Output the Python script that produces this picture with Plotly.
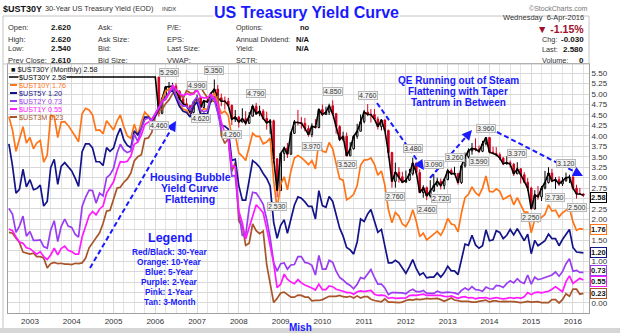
import plotly.graph_objects as go
import pandas as pd

# ---------------- data (monthly, Jul-2002 .. Apr-2016) ----------------
start_month = "2002-07-01"

y10 = [4.46, 4.14, 3.63, 3.93, 4.22, 3.83,
       3.96, 3.69, 3.83, 3.89, 3.37, 3.54, 4.49, 4.47, 3.96, 4.33, 4.34, 4.25,
       4.13, 3.99, 3.86, 4.53, 4.66, 4.62, 4.50, 4.13, 4.14, 4.05, 4.36, 4.24,
       4.14, 4.36, 4.50, 4.21, 4.00, 3.94, 4.28, 4.02, 4.34, 4.57, 4.49, 4.39,
       4.53, 4.55, 4.86, 5.07, 5.12, 5.15, 4.99, 4.74, 4.64, 4.61, 4.46, 4.71,
       4.83, 4.56, 4.65, 4.63, 4.89, 5.03, 4.78, 4.54, 4.59, 4.48, 3.97, 4.03,
       3.59, 3.51, 3.41, 3.73, 4.06, 3.99, 3.99, 3.81, 3.85, 3.95, 2.92, 2.25,
       2.84, 3.02, 2.71, 3.16, 3.47, 3.53, 3.48, 3.40, 3.31, 3.41, 3.21, 3.85,
       3.63, 3.61, 3.84, 3.69, 3.31, 2.97, 2.94, 2.47, 2.52, 2.60, 2.81, 3.30,
       3.42, 3.43, 3.47, 3.32, 3.06, 3.16, 2.82, 2.23, 1.92, 2.17, 2.08, 1.89,
       1.83, 1.98, 2.23, 1.95, 1.59, 1.67, 1.51, 1.57, 1.65, 1.72, 1.62, 1.78,
       2.02, 1.89, 1.87, 1.70, 2.16, 2.52, 2.60, 2.78, 2.64, 2.57, 2.75, 3.04,
       2.67, 2.66, 2.73, 2.67, 2.48, 2.53, 2.58, 2.35, 2.52, 2.35, 2.18, 2.17,
       1.68, 2.00, 1.94, 2.05, 2.12, 2.35, 2.20, 2.22, 2.06, 2.16, 2.21, 2.27,
       1.94, 1.74, 1.78, 1.76]

y5 = [3.81, 3.29, 2.63, 2.72, 3.20, 2.78,
      2.95, 2.71, 2.74, 2.82, 2.32, 2.43, 3.24, 3.44, 2.84, 3.27, 3.36, 3.25,
      3.16, 2.98, 2.79, 3.62, 3.81, 3.81, 3.71, 3.38, 3.38, 3.29, 3.72, 3.63,
      3.71, 4.00, 4.18, 3.90, 3.77, 3.72, 4.12, 4.02, 4.18, 4.45, 4.45, 4.35,
      4.47, 4.63, 4.82, 4.92, 5.03, 5.10, 4.91, 4.70, 4.59, 4.56, 4.45, 4.70,
      4.82, 4.51, 4.54, 4.51, 4.86, 4.92, 4.59, 4.25, 4.23, 4.16, 3.41, 3.44,
      2.81, 2.46, 2.46, 2.99, 3.41, 3.34, 3.25, 3.10, 2.98, 2.80, 1.93, 1.55,
      1.86, 1.99, 1.67, 2.01, 2.34, 2.54, 2.51, 2.42, 2.31, 2.31, 2.01, 2.69,
      2.33, 2.29, 2.55, 2.43, 2.10, 1.79, 1.60, 1.33, 1.27, 1.17, 1.46, 2.01,
      1.95, 2.13, 2.24, 1.97, 1.69, 1.76, 1.35, 0.96, 0.96, 1.02, 0.96, 0.83,
      0.71, 0.87, 1.04, 0.82, 0.67, 0.72, 0.60, 0.62, 0.62, 0.72, 0.62, 0.72,
      0.88, 0.77, 0.77, 0.68, 1.05, 1.41, 1.38, 1.62, 1.39, 1.31, 1.37, 1.75,
      1.49, 1.51, 1.73, 1.69, 1.54, 1.62, 1.76, 1.63, 1.78, 1.62, 1.49, 1.65,
      1.18, 1.50, 1.37, 1.43, 1.49, 1.65, 1.54, 1.54, 1.37, 1.52, 1.65, 1.76,
      1.33, 1.22, 1.21, 1.20]

y2 = [2.26, 2.13, 1.69, 1.84, 2.08, 1.60,
      1.71, 1.50, 1.50, 1.51, 1.35, 1.31, 1.74, 1.97, 1.47, 1.83, 2.01, 1.84,
      1.81, 1.64, 1.58, 2.31, 2.53, 2.70, 2.69, 2.39, 2.63, 2.56, 3.00, 3.07,
      3.22, 3.59, 3.80, 3.66, 3.60, 3.64, 4.04, 3.86, 4.18, 4.39, 4.43, 4.39,
      4.54, 4.69, 4.82, 4.87, 5.02, 5.16, 4.97, 4.79, 4.71, 4.71, 4.62, 4.82,
      4.93, 4.62, 4.58, 4.60, 4.92, 4.87, 4.56, 4.15, 3.98, 3.94, 3.04, 3.05,
      2.16, 1.62, 1.62, 2.29, 2.65, 2.63, 2.51, 2.36, 2.00, 1.56, 0.97, 0.76,
      0.94, 0.96, 0.81, 0.91, 0.92, 1.11, 1.11, 0.97, 0.95, 0.90, 0.67, 1.14,
      0.81, 0.81, 1.02, 0.97, 0.76, 0.61, 0.55, 0.47, 0.42, 0.34, 0.45, 0.61,
      0.58, 0.69, 0.80, 0.61, 0.45, 0.45, 0.36, 0.20, 0.25, 0.25, 0.25, 0.24,
      0.22, 0.29, 0.33, 0.27, 0.27, 0.30, 0.23, 0.23, 0.23, 0.28, 0.25, 0.25,
      0.26, 0.25, 0.24, 0.21, 0.30, 0.36, 0.31, 0.39, 0.32, 0.31, 0.28, 0.38,
      0.34, 0.33, 0.42, 0.41, 0.37, 0.47, 0.53, 0.48, 0.58, 0.50, 0.47, 0.67,
      0.45, 0.62, 0.56, 0.58, 0.61, 0.64, 0.67, 0.74, 0.64, 0.75, 0.94, 1.06,
      0.76, 0.78, 0.73, 0.73]

y1 = [1.77, 1.73, 1.58, 1.46, 1.43, 1.32,
      1.30, 1.22, 1.17, 1.23, 1.11, 1.04, 1.15, 1.31, 1.15, 1.30, 1.36, 1.26,
      1.23, 1.17, 1.17, 1.58, 1.86, 2.09, 2.19, 2.11, 2.25, 2.32, 2.63, 2.75,
      2.90, 3.18, 3.38, 3.37, 3.39, 3.51, 3.80, 3.85, 4.02, 4.27, 4.33, 4.38,
      4.52, 4.69, 4.81, 4.90, 5.01, 5.21, 5.10, 5.01, 4.96, 5.01, 4.98, 5.00,
      5.10, 4.93, 4.91, 4.91, 4.99, 4.91, 4.76, 4.33, 4.07, 3.96, 3.28, 3.26,
      2.20, 1.91, 1.53, 1.80, 2.12, 2.35, 2.26, 2.16, 1.78, 1.35, 0.95, 0.37,
      0.45, 0.69, 0.57, 0.50, 0.46, 0.56, 0.48, 0.43, 0.40, 0.36, 0.31, 0.45,
      0.32, 0.32, 0.41, 0.39, 0.33, 0.31, 0.28, 0.25, 0.25, 0.21, 0.27, 0.29,
      0.27, 0.29, 0.30, 0.21, 0.18, 0.19, 0.18, 0.11, 0.13, 0.11, 0.11, 0.12,
      0.12, 0.18, 0.19, 0.18, 0.19, 0.21, 0.18, 0.18, 0.17, 0.18, 0.18, 0.16,
      0.15, 0.17, 0.14, 0.11, 0.14, 0.15, 0.12, 0.13, 0.10, 0.12, 0.12, 0.13,
      0.10, 0.12, 0.13, 0.11, 0.10, 0.11, 0.13, 0.11, 0.13, 0.11, 0.15, 0.25,
      0.20, 0.25, 0.26, 0.24, 0.26, 0.28, 0.33, 0.39, 0.33, 0.27, 0.51, 0.65,
      0.47, 0.53, 0.59, 0.55]

y3m = [1.69, 1.67, 1.55, 1.45, 1.22, 1.19,
       1.17, 1.19, 1.11, 1.11, 1.08, 0.84, 0.94, 0.97, 0.94, 0.95, 0.93, 0.93,
       0.92, 0.95, 0.94, 0.96, 1.07, 1.32, 1.44, 1.58, 1.68, 1.90, 2.20, 2.22,
       2.49, 2.75, 2.77, 2.89, 2.97, 3.11, 3.40, 3.50, 3.55, 3.93, 3.95, 4.08,
       4.47, 4.62, 4.63, 4.77, 4.86, 5.01, 5.10, 5.05, 4.89, 5.08, 5.03, 5.02,
       5.14, 5.16, 5.04, 4.91, 4.86, 4.82, 4.96, 4.01, 3.82, 3.94, 3.15, 3.36,
       1.96, 1.85, 1.38, 1.43, 1.89, 1.73, 1.66, 1.72, 0.92, 0.46, 0.01, 0.11,
       0.24, 0.26, 0.21, 0.14, 0.14, 0.19, 0.18, 0.14, 0.14, 0.05, 0.06, 0.06,
       0.08, 0.13, 0.16, 0.16, 0.16, 0.18, 0.15, 0.14, 0.16, 0.12, 0.17, 0.12,
       0.15, 0.15, 0.09, 0.06, 0.05, 0.03, 0.10, 0.02, 0.02, 0.01, 0.01, 0.02,
       0.06, 0.08, 0.07, 0.09, 0.08, 0.09, 0.11, 0.10, 0.10, 0.11, 0.08, 0.04,
       0.08, 0.12, 0.07, 0.05, 0.04, 0.04, 0.04, 0.02, 0.02, 0.04, 0.06, 0.07,
       0.02, 0.05, 0.05, 0.03, 0.04, 0.04, 0.03, 0.03, 0.02, 0.01, 0.02, 0.04,
       0.02, 0.02, 0.03, 0.01, 0.01, 0.01, 0.08, 0.08, 0.00, 0.08, 0.22, 0.16,
       0.33, 0.33, 0.21, 0.23]

# 30-year: not issued until Feb-2006 -> chart carries a flat 5.41
flat30 = [5.41] * 43
candle_start = "2006-02-01"
o30 = [5.41, 4.54, 4.89, 5.17, 5.18, 5.19, 5.07, 4.88, 4.77, 4.72, 4.56,
       4.81, 4.92, 4.68, 4.84, 4.81, 5.01, 5.12, 4.91, 4.83, 4.83, 4.73, 4.40,
       4.45, 4.33, 4.41, 4.30, 4.47, 4.71, 4.53, 4.59, 4.42, 4.31, 4.36, 3.45,
       2.69, 3.58, 3.71, 3.56, 4.06, 4.33, 4.32, 4.30, 4.18, 4.03, 4.23, 4.20,
       4.63, 4.51, 4.57, 4.72, 4.53, 4.22, 3.91, 3.99, 3.52, 3.69, 3.99, 4.11,
       4.34, 4.57, 4.51, 4.51, 4.40, 4.22, 4.38, 4.13, 3.60, 2.91, 3.13, 3.02,
       2.89, 2.94, 3.09, 3.35, 3.12, 2.64, 2.76, 2.56, 2.68, 2.82, 2.91, 2.81,
       2.95, 3.17, 3.09, 3.10, 2.88, 3.28, 3.50, 3.64, 3.70, 3.68, 3.63, 3.81,
       3.96, 3.61, 3.58, 3.55, 3.47, 3.33, 3.36, 3.32, 3.09, 3.21, 3.07, 2.89,
       2.75, 2.25, 2.59, 2.54, 2.75, 2.88, 3.11, 2.92, 2.95, 2.85, 2.92, 3.00,
       3.01, 2.75, 2.61, 2.61]
h30 = [5.41, 4.92, 5.19, 5.29, 5.27, 5.26, 5.09, 4.94, 4.90, 4.74, 4.83,
       4.99, 4.95, 4.86, 4.94, 5.04, 5.35, 5.22, 5.01, 4.94, 4.91, 4.75, 4.62,
       4.48, 4.66, 4.59, 4.57, 4.75, 4.79, 4.72, 4.64, 4.58, 4.40, 4.39, 3.46,
       3.59, 3.74, 3.83, 4.10, 4.38, 4.62, 4.45, 4.43, 4.25, 4.30, 4.40, 4.66,
       4.75, 4.70, 4.77, 4.85, 4.55, 4.26, 4.10, 4.08, 3.85, 4.02, 4.29, 4.51,
       4.62, 4.76, 4.64, 4.64, 4.46, 4.40, 4.39, 4.15, 3.62, 3.36, 3.25, 3.14,
       3.17, 3.21, 3.48, 3.36, 3.20, 2.82, 2.79, 2.94, 3.09, 3.00, 2.98, 2.98,
       3.21, 3.22, 3.26, 3.11, 3.31, 3.60, 3.70, 3.83, 3.94, 3.77, 3.88, 3.96,
       3.96, 3.74, 3.73, 3.60, 3.49, 3.51, 3.41, 3.35, 3.37, 3.23, 3.13, 2.99,
       2.78, 2.70, 2.80, 2.80, 3.16, 3.25, 3.21, 3.01, 3.03, 3.01, 3.12, 3.07,
       3.04, 2.83, 2.75, 2.62]
l30 = [4.46, 4.52, 4.87, 5.04, 5.08, 5.05, 4.86, 4.72, 4.72, 4.50, 4.54,
       4.79, 4.62, 4.64, 4.80, 4.79, 5.00, 4.89, 4.71, 4.63, 4.70, 4.26, 4.33,
       4.20, 4.32, 4.25, 4.29, 4.46, 4.50, 4.47, 4.38, 4.15, 4.05, 3.35, 2.53,
       2.68, 3.40, 3.47, 3.55, 4.05, 4.25, 4.17, 4.11, 3.98, 3.97, 4.18, 4.18,
       4.47, 4.50, 4.50, 4.51, 4.05, 3.88, 3.87, 3.52, 3.52, 3.67, 3.93, 4.11,
       4.30, 4.47, 4.32, 4.38, 4.15, 4.13, 4.11, 3.47, 2.76, 2.76, 2.88, 2.87,
       2.88, 2.92, 3.05, 3.08, 2.64, 2.52, 2.46, 2.52, 2.66, 2.78, 2.72, 2.72,
       2.94, 3.06, 3.07, 2.83, 2.85, 3.24, 3.46, 3.55, 3.63, 3.59, 3.61, 3.77,
       3.58, 3.57, 3.51, 3.42, 3.30, 3.31, 3.24, 3.04, 3.09, 2.86, 2.89, 2.68,
       2.25, 2.24, 2.47, 2.44, 2.72, 2.86, 2.89, 2.73, 2.80, 2.80, 2.91, 2.87,
       2.71, 2.50, 2.60, 2.54]
c30 = [4.54, 4.89, 5.17, 5.18, 5.19, 5.07, 4.88, 4.77, 4.72, 4.56, 4.81,
       4.92, 4.68, 4.84, 4.81, 5.01, 5.12, 4.91, 4.83, 4.83, 4.73, 4.40, 4.45,
       4.33, 4.41, 4.30, 4.47, 4.71, 4.53, 4.59, 4.42, 4.31, 4.36, 3.45, 2.69,
       3.58, 3.71, 3.56, 4.06, 4.33, 4.32, 4.30, 4.18, 4.03, 4.23, 4.20, 4.63,
       4.51, 4.57, 4.72, 4.53, 4.22, 3.91, 3.99, 3.52, 3.69, 3.99, 4.11, 4.34,
       4.57, 4.51, 4.51, 4.40, 4.22, 4.38, 4.13, 3.60, 2.91, 3.13, 3.02, 2.89,
       2.94, 3.09, 3.35, 3.12, 2.64, 2.76, 2.56, 2.68, 2.82, 2.91, 2.81, 2.95,
       3.17, 3.09, 3.10, 2.88, 3.28, 3.50, 3.64, 3.70, 3.68, 3.63, 3.81, 3.96,
       3.61, 3.58, 3.55, 3.47, 3.33, 3.36, 3.32, 3.09, 3.21, 3.07, 2.89, 2.75,
       2.25, 2.59, 2.54, 2.75, 2.88, 3.11, 2.92, 2.95, 2.85, 2.92, 3.00, 3.01,
       2.75, 2.61, 2.61, 2.58]

# swing labels on the 30-year candles: (month, value, side)
swing_months = ["2006-02-01", "2006-05-01", "2007-01-01", "2007-02-01", "2007-06-01",
                "2007-11-01", "2008-06-01", "2008-12-01", "2009-10-01", "2010-04-01",
                "2010-08-01", "2011-02-01", "2011-10-01", "2012-03-01", "2012-07-01",
                "2012-09-01", "2012-11-01", "2013-03-01", "2013-10-01", "2013-12-01",
                "2014-09-01", "2015-01-01", "2015-08-01", "2015-11-01", "2016-02-01"]
swing_values = [4.46, 5.29, 4.99, 4.62, 5.35, 4.26, 4.79, 2.53, 3.97, 4.85,
                3.52, 4.76, 2.76, 3.48, 2.46, 3.09, 2.72, 3.26, 3.59, 3.96,
                3.37, 2.25, 2.73, 3.12, 2.50]
swing_sides = ["dn", "up", "up", "dn", "up", "dn", "up", "dn", "dn", "up",
               "dn", "up", "dn", "up", "dn", "up", "dn", "up", "dn", "up",
               "up", "dn", "dn", "up", "dn"]

series_names = ["$UST30Y", "$UST10Y", "$UST5Y", "$UST2Y", "$UST1Y", "$UST3M"]
last_values = [2.58, 1.76, 1.20, 0.73, 0.55, 0.23]

year_labels = ["2003", "2004", "2005", "2006", "2007", "2008", "2009",
               "2010", "2011", "2012", "2013", "2014", "2015", "2016"]
y_tick_vals = [0.00, 0.25, 0.50, 0.75, 1.00, 1.25, 1.50, 1.75, 2.00, 2.25, 2.50, 2.75,
               3.00, 3.25, 3.50, 3.75, 4.00, 4.25, 4.50, 4.75, 5.00, 5.25, 5.50]
y_tick_text = ["0.00", "", "", "", "1.00", "", "1.50", "", "2.00", "2.25", "", "2.75",
               "3.00", "3.25", "3.50", "3.75", "4.00", "4.25", "4.50", "4.75", "5.00", "5.25", "5.50"]

# ---------------- styling ----------------
C30, C10, C5, C2, C1, C3M = "#000000", "#ff7417", "#14148a", "#9a3cf0", "#ff1aff", "#a8552a"
RED = "#d4001c"
BLUE = "#1a1aff"
FONT = "Liberation Sans, Arial, sans-serif"

W, H = 620, 333
L, R, T, B = 8, 589, 64, 313


def px(x):
    return (x - L) / (R - L)


def py(y):
    return (B - y) / (B - T)


months = pd.date_range(start_month, periods=len(y10), freq="MS")
cmonths = pd.date_range(candle_start, periods=len(c30), freq="MS")
close30 = flat30 + c30

fig = go.Figure()
fig.add_trace(go.Candlestick(
    x=cmonths, open=o30, high=h30, low=l30, close=c30,
    increasing=dict(line=dict(color="black", width=1), fillcolor="white"),
    decreasing=dict(line=dict(color=RED, width=1), fillcolor=RED),
    whiskerwidth=0, hoverinfo="skip", showlegend=False))
fig.add_trace(go.Scatter(x=months, y=close30, mode="lines",
                         line=dict(color=C30, width=1.6), hoverinfo="skip"))
for ys, col in [(y3m, C3M), (y10, C10), (y5, C5), (y2, C2), (y1, C1)]:
    fig.add_trace(go.Scatter(x=months, y=ys, mode="lines",
                             line=dict(color=col, width=1.7), hoverinfo="skip"))

ann = []
shapes = []


def text(x, y, s, size=7.5, color="#222", anchor="left", bold=False, bg=None, pad=1):
    d = dict(xref="paper", yref="paper", x=px(x), y=py(y), text=("<b>%s</b>" % s) if bold else s,
             showarrow=False, xanchor=anchor, yanchor="middle", borderpad=pad,
             font=dict(size=size, color=color, family=FONT))
    if bg:
        d["bgcolor"] = bg
    ann.append(d)


# header
text(2, 9, "$UST30Y", size=9, color="#111", bold=True, pad=0)
text(44, 9, "30-Year US Treasury Yield (EOD)", size=7.3, color="#333", pad=0)
text(161, 9.5, "INDX", size=6, color="#333", pad=0)
text(306, 13, "US Treasury Yield Curve", size=16, color=BLUE, anchor="center", bold=True, bg="white", pad=0)
text(589, 8, "\u00a9StockCharts.com", size=7, color="#777", anchor="right", pad=0)
rows_y = [28, 39, 49, 60]
for yy, lab, val in zip(rows_y, ["Open:", "High:", "Low:", "Prev Close:"], ["2.620", "2.620", "2.540", "2.610"]):
    text(7, yy, lab, color="#333", pad=0)
    text(50, yy, val, size=8, color="#111", bold=True, pad=0)
for yy, lab in zip(rows_y, ["Ask:", "Ask Size:", "Bid:", "Bid Size:"]):
    text(97, yy, lab, color="#333", pad=0)
for yy, lab in zip(rows_y, ["P/E:", "EPS:", "Last Size:", "VWAP:"]):
    text(166, yy, lab, color="#333", pad=0)
for yy, lab in zip(rows_y, ["Options:", "Annual Dividend:", "Yield:", "SCTR:"]):
    text(235, yy, lab, size=7.2, color="#333", pad=0)
for yy, val in zip(rows_y[:3], ["no", "N/A", "N/A"]):
    text(311, yy, val, size=7.5, color="#111", anchor="right", bold=True, pad=0)
text(585, 18, "Wednesday&nbsp;&nbsp;6-Apr-2016", size=7.5, color="#333", anchor="right", pad=0)
text(585, 29, "\u25bc -1.15%", size=10.5, color="#a0102a", anchor="right", bold=True, pad=0)
for yy, lab, val in zip([40, 50, 60], ["Chg:", "Last:", "Volume:"], ["-0.030", "2.580", "0"]):
    text(541, yy, lab, size=7.3, color="#333", pad=0)
    text(585, yy, val, size=8, color="#111", anchor="right", bold=True, pad=0)

# header box, outer frame, bottom band
shapes.append(dict(type="rect", xref="paper", yref="paper", x0=px(3), x1=px(589), y0=py(64), y1=py(16),
                   line=dict(color="#c4c4c4", width=1)))
shapes.append(dict(type="line", xref="paper", yref="paper", x0=px(3), x1=px(3), y0=py(64), y1=py(328),
                   line=dict(color="#c4c4c4", width=1)))
shapes.append(dict(type="rect", xref="paper", yref="paper", x0=px(0), x1=px(620), y0=py(328), y1=py(334),
                   fillcolor="#d6d6d6", line=dict(width=0)))

# in-chart legend
text(10, 69, "\u25a0 $UST30Y (Monthly) 2.58", size=7.3, color="#111", pad=0)
leg_rows = [77, 85, 93, 101, 109, 117]
leg_cols = [C30, C10, C5, C2, C1, C3M]
for i, (yy, nm, v, col) in enumerate(zip(leg_rows, series_names, last_values, leg_cols)):
    if i > 0:
        shapes.append(dict(type="line", xref="paper", yref="paper", x0=px(10), x1=px(17), y0=py(yy), y1=py(yy),
                           line=dict(color=col, width=2)))
    text(18, yy, "%s %.2f" % (nm, v), size=7.2, color=col, bg="white" if i == 0 else None, pad=0)

# blue commentary
for i, s in enumerate(["Housing Bubble", "Yield Curve", "Flattening"]):
    text(190, 177 + 11 * i, s, size=10.5, color=BLUE, anchor="center", bold=True, pad=0)
text(170, 238, "Legend", size=12.5, color=BLUE, anchor="center", bold=True, pad=0)
for i, s in enumerate(["Red/Black: 30-Year", "Orange: 10-Year", "Blue: 5-Year",
                       "Purple: 2-Year", "Pink: 1-Year", "Tan: 3-Month"]):
    text(169, 252 + 10 * i, s, size=8.3, color=BLUE, anchor="center", bold=True, pad=0)
for i, s in enumerate(["QE Running out of Steam", "Flattening with Taper", "Tantrum in Between"]):
    text(458, 80 + 11.5 * i, s, size=10, color=BLUE, anchor="center", bold=True, pad=0)
text(300, 327, "Mish", size=10, color=BLUE, anchor="center", bold=True, pad=0)

# dashed arrows
for (x0, y0, x1, y1) in [(90, 268, 176, 121), (377, 103, 424, 170), (430, 178, 472, 130), (497, 132, 583, 176)]:
    dx, dy = x1 - x0, y1 - y0
    ln = (dx * dx + dy * dy) ** 0.5
    ux, uy = dx / ln, dy / ln
    shapes.append(dict(type="line", xref="paper", yref="paper", x0=px(x0), y0=py(y0),
                       x1=px(x1 - 6 * ux), y1=py(y1 - 6 * uy),
                       line=dict(color=BLUE, width=2, dash="5px,3px")))
    ann.append(dict(xref="paper", yref="paper", x=px(x1), y=py(y1), text="", showarrow=True,
                    ax=-8 * ux, ay=-8 * uy, arrowhead=2, arrowsize=1, arrowwidth=2, arrowcolor=BLUE))

# swing value labels
for m, v, sd in zip(swing_months, swing_values, swing_sides):
    ann.append(dict(xref="x", yref="y", x=m, y=v, text="%.3f" % v, showarrow=False,
                    yshift=9 if sd == "up" else -9, font=dict(size=7, color="#333", family=FONT),
                    bgcolor="#f2f2f2", bordercolor="#b8b8b8", borderwidth=1, borderpad=0))

# last-value boxes on the right axis (small nudges keep stacked boxes apart)
box_nudges = [-2, 0, 0, 2, -2, 0]
for v, col, nd in zip(last_values, leg_cols, box_nudges):
    ann.append(dict(xref="paper", yref="y", x=1, y=v, xanchor="left", xshift=1, yshift=nd,
                    text="<b>%.2f</b>" % v,
                    showarrow=False, font=dict(size=7.5, color="#111", family=FONT),
                    bgcolor="white", bordercolor=col, borderwidth=1, borderpad=0))

fig.update_layout(
    width=W, height=H, margin=dict(l=L, r=W - R, t=T, b=H - B),
    paper_bgcolor="white", plot_bgcolor="white", showlegend=False,
    font=dict(family=FONT, size=8, color="#333"),
    annotations=ann, shapes=shapes,
    xaxis=dict(type="date", range=["2002-06-23", "2016-05-20"],
               tickmode="array", tickvals=["%s-01-01" % y for y in year_labels], ticktext=year_labels,
               showgrid=True, gridcolor="#d8d8d8", gridwidth=1,
               minor=dict(tickmode="linear", tick0="2003-01-01", dtick="M3", showgrid=True,
                          gridcolor="#e4e4e4", ticks=""),
               ticks="", tickfont=dict(size=8, color="#333"), showline=True, mirror=True,
               linecolor="#a0a0a0", rangeslider=dict(visible=False), zeroline=False, fixedrange=True),
    yaxis=dict(side="right", range=[-0.24, 5.72], tickmode="array", tickvals=y_tick_vals,
               ticktext=y_tick_text, showgrid=True, gridcolor="#d8d8d8", ticks="",
               tickfont=dict(size=8, color="#333"), showline=True, mirror=True,
               linecolor="#a0a0a0", zeroline=False, fixedrange=True),
)

fig.write_html("out.html")
